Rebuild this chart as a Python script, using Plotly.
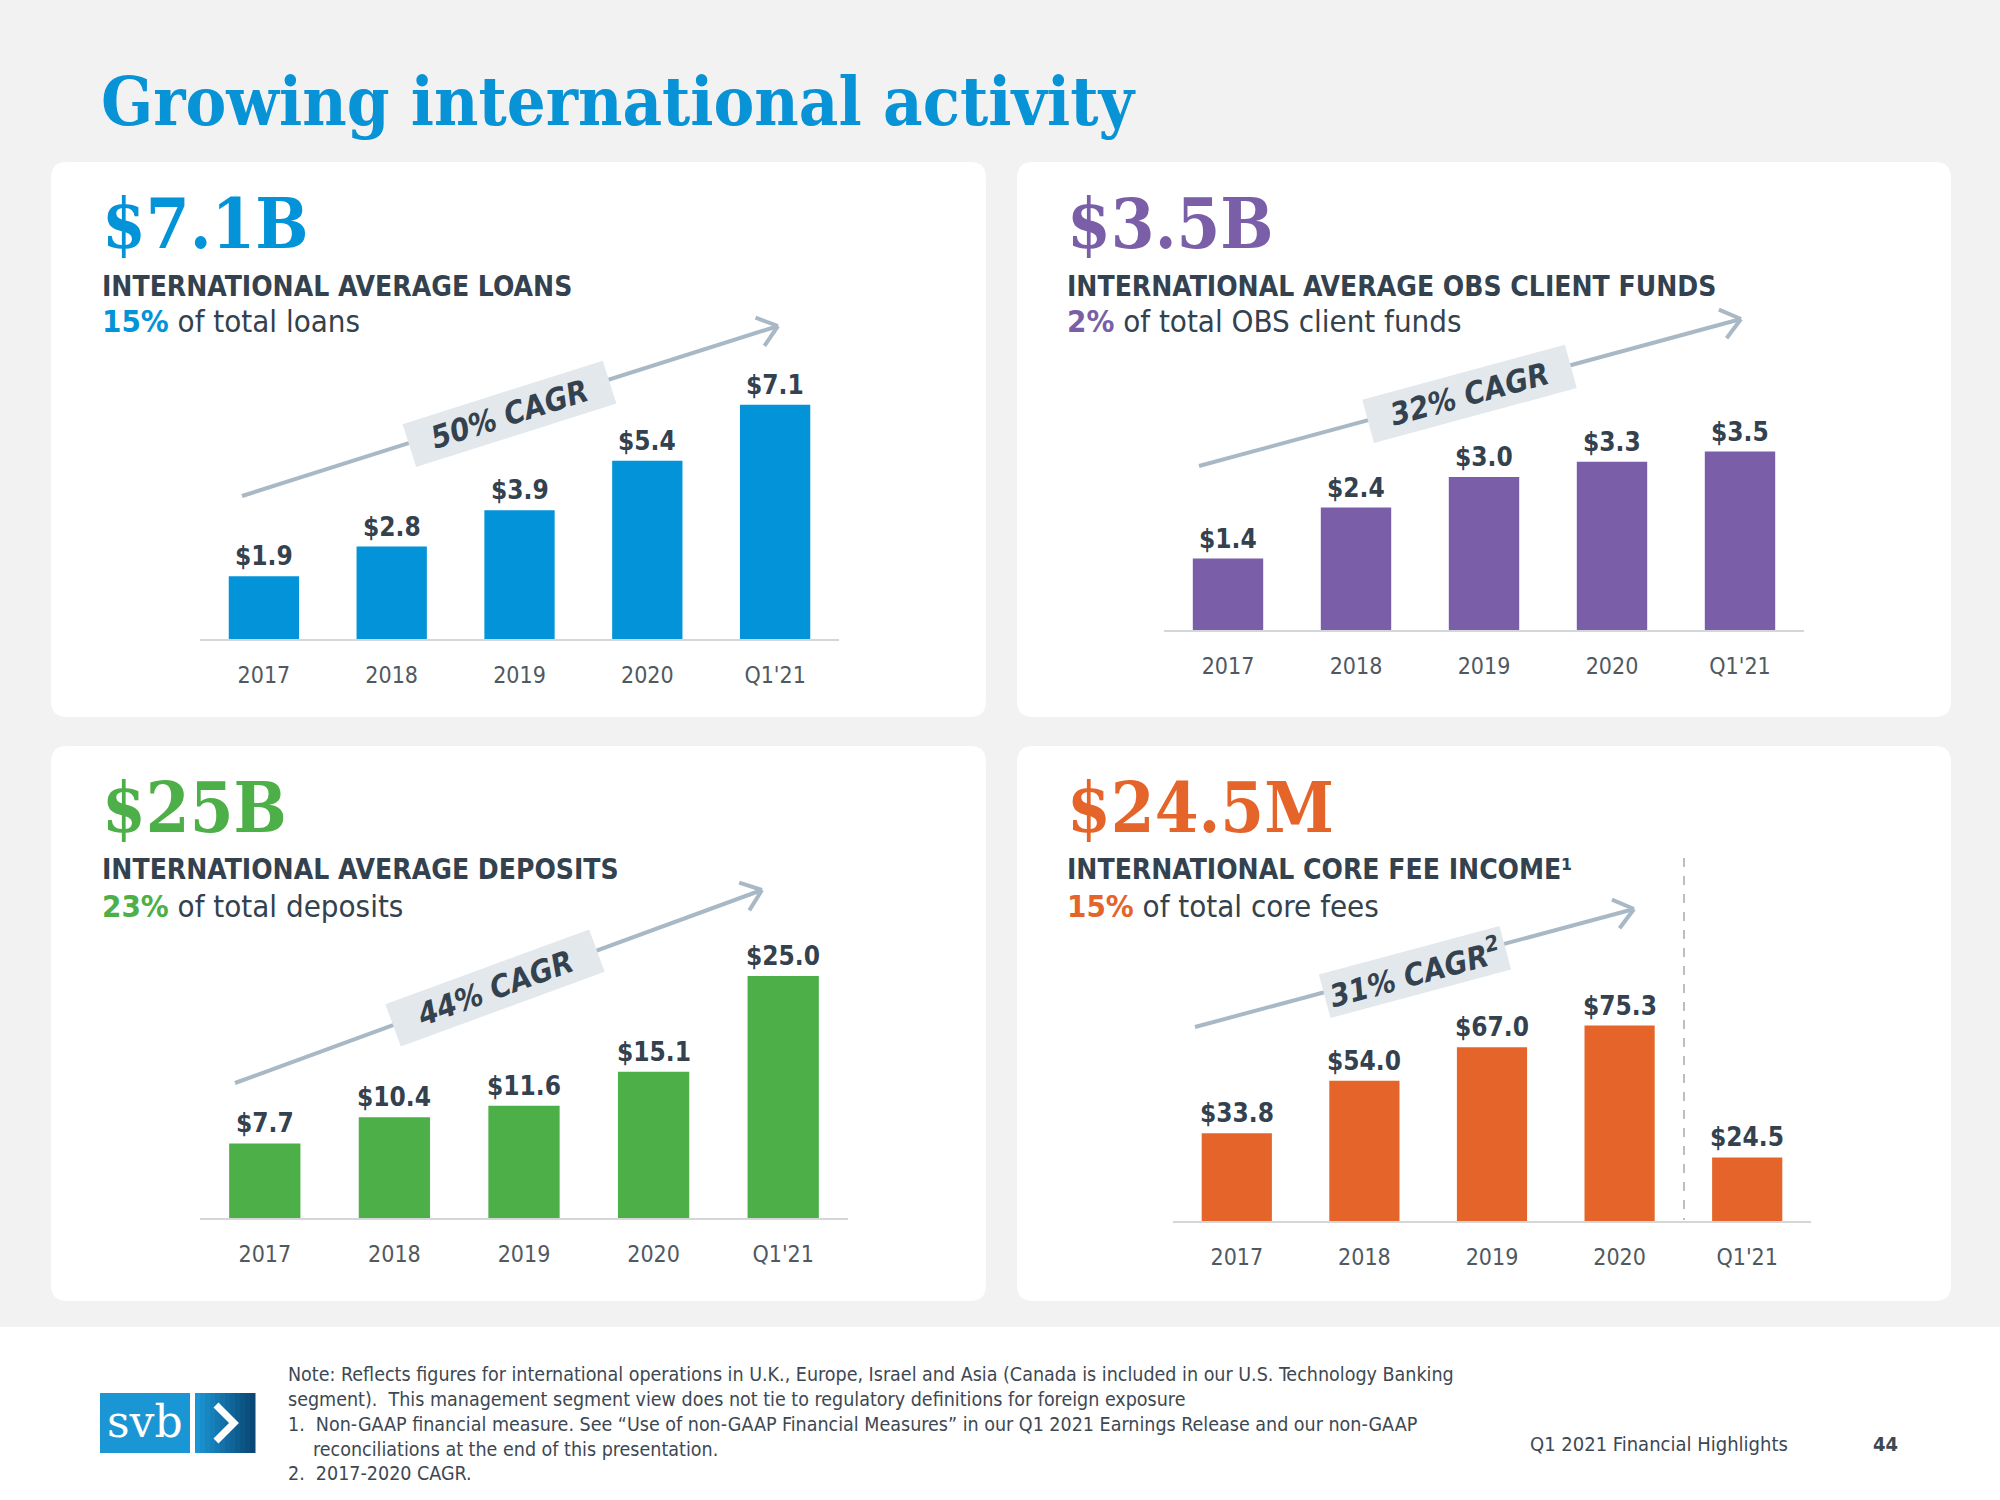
import math
import plotly.graph_objects as go

W, H = 2000, 1500

# ---------------- data ----------------
categories = ["2017", "2018", "2019", "2020", "Q1'21"]
loans = [1.9, 2.8, 3.9, 5.4, 7.1]
obs_funds = [1.4, 2.4, 3.0, 3.3, 3.5]
deposits = [7.7, 10.4, 11.6, 15.1, 25.0]
fee_income = [33.8, 54.0, 67.0, 75.3, 24.5]

headline_values = ["$7.1B", "$3.5B", "$25B", "$24.5M"]
headline_titles = ["INTERNATIONAL AVERAGE LOANS",
                   "INTERNATIONAL AVERAGE OBS CLIENT FUNDS",
                   "INTERNATIONAL AVERAGE DEPOSITS",
                   "INTERNATIONAL CORE FEE INCOME¹"]
share_pcts = ["15%", "2%", "23%", "15%"]
share_texts = ["of total loans", "of total OBS client funds",
               "of total deposits", "of total core fees"]
cagr_texts = ["50% CAGR", "32% CAGR", "44% CAGR", "31% CAGR<sup>2</sup>"]

# ---------------- styles ----------------
SANS = "'Liberation Sans Narrow', 'DejaVu Sans Condensed', 'Noto Sans', sans-serif"
SERIF = "'DejaVu Serif Condensed', 'DejaVu Serif', serif"
DARK = "#33424e"
TICK = "#4f5962"
BG = "#f2f2f2"
ARROW = "#a9b8c5"
BOXC = "#e3e8ec"
colors = ["#0393d8", "#7a5fa8", "#4daf47", "#e4642a"]


def px(x):
    return x / W


def py(y):
    return 1 - y / H


# panel geometry (pixels): card rect, axis line span, baseline, px per unit, ymax
panels = [
    dict(card=(51, 162, 986, 717), xl=(200, 839), base=639, scale=33.0, ymax=8,
         text_x=100, ys=(223, 286, 321), arrow=((242, 496), (778, 326)),
         box=(509, 414), boxw=205, vals=loans),
    dict(card=(1017, 162, 1951, 717), xl=(1164, 1804), base=630, scale=51.0, ymax=4,
         text_x=1065, ys=(223, 286, 321), arrow=((1199, 466), (1741, 319)),
         box=(1469, 394), boxw=205, vals=obs_funds),
    dict(card=(51, 746, 986, 1301), xl=(200, 848), base=1218, scale=9.68, ymax=28,
         text_x=100, ys=(807, 869, 906), arrow=((235, 1083), (762, 890)),
         box=(495, 988), boxw=212, vals=deposits),
    dict(card=(1017, 746, 1951, 1301), xl=(1173, 1811), base=1221, scale=2.595, ymax=85,
         text_x=1065, ys=(807, 869, 906), arrow=((1195, 1027), (1634, 909)),
         box=(1415, 972), boxw=182, vals=fee_income),
]

fig = go.Figure()
shapes = []
annotations = []
layout_axes = {}


def rounded_rect(x0, y0, x1, y1, r, color):
    rx, ry = r / W, r / H
    X0, X1 = px(x0), px(x1)
    Y0, Y1 = py(y1), py(y0)  # bottom, top
    path = (f"M {X0+rx},{Y0} L {X1-rx},{Y0} Q {X1},{Y0} {X1},{Y0+ry} "
            f"L {X1},{Y1-ry} Q {X1},{Y1} {X1-rx},{Y1} L {X0+rx},{Y1} "
            f"Q {X0},{Y1} {X0},{Y1-ry} L {X0},{Y0+ry} Q {X0},{Y0} {X0+rx},{Y0} Z")
    return dict(type="path", path=path, xref="paper", yref="paper",
                fillcolor=color, line=dict(width=0), layer="below")


# footer white band
shapes.append(dict(type="rect", xref="paper", yref="paper", x0=0, x1=1,
                   y0=0, y1=py(1327), fillcolor="white", line=dict(width=0),
                   layer="below"))

for i, p in enumerate(panels):
    n = "" if i == 0 else str(i + 1)
    xa, ya = "x" + n, "y" + n
    # card
    shapes.append(rounded_rect(*p["card"], 16, "white"))
    # axes
    top = p["base"] - p["ymax"] * p["scale"]
    layout_axes["xaxis" + n] = dict(
        domain=[px(p["xl"][0]), px(p["xl"][1])], anchor=ya, type="category",
        range=[-0.5, 4.5], showline=True, linecolor="#d3d7da", linewidth=2,
        showgrid=False, zeroline=False, ticks="", ticklabelstandoff=14,
        tickfont=dict(family=SANS, size=23, color=TICK), fixedrange=True)
    layout_axes["yaxis" + n] = dict(
        domain=[py(p["base"]), py(top)], anchor=xa, range=[0, p["ymax"]],
        visible=False, fixedrange=True)
    fig.add_trace(go.Bar(x=categories, y=p["vals"], marker_color=colors[i],
                         marker_line_width=0, width=0.55, xaxis=xa, yaxis=ya,
                         hoverinfo="skip"))
    for j, v in enumerate(p["vals"]):
        annotations.append(dict(x=j, y=v, xref=xa, yref=ya, text=f"<b>${v:.1f}</b>",
                                showarrow=False, yanchor="bottom", yshift=3,
                                font=dict(family=SANS, size=26, color=DARK)))
    # headline texts
    tx = px(p["text_x"])
    annotations.append(dict(x=tx, y=py(p["ys"][0]), xref="paper", yref="paper",
                            text=f"<b>{headline_values[i]}</b>", showarrow=False,
                            xanchor="left", yanchor="middle",
                            font=dict(family=SERIF, size=70, color=colors[i])))
    annotations.append(dict(x=tx, y=py(p["ys"][1]), xref="paper", yref="paper",
                            text=f"<b>{headline_titles[i]}</b>", showarrow=False,
                            xanchor="left", yanchor="middle",
                            font=dict(family=SANS, size=28, color=DARK)))
    annotations.append(dict(x=tx, y=py(p["ys"][2]), xref="paper", yref="paper",
                            text=f"<b><span style='color:{colors[i]}'>{share_pcts[i]}</span></b> {share_texts[i]}",
                            showarrow=False, xanchor="left", yanchor="middle",
                            font=dict(family=SANS, size=31, color=DARK)))
    # trend arrow
    (x0, y0), (x1, y1) = p["arrow"]
    shapes.append(dict(type="line", xref="paper", yref="paper", x0=px(x0), y0=py(y0),
                       x1=px(x1), y1=py(y1), line=dict(color=ARROW, width=4)))
    ang = math.atan2(y1 - y0, x1 - x0)
    for da in (math.radians(38), -math.radians(38)):
        back = ang + math.pi + da
        ex, ey = x1 + 24 * math.cos(back), y1 + 24 * math.sin(back)
        shapes.append(dict(type="line", xref="paper", yref="paper", x0=px(ex), y0=py(ey),
                           x1=px(x1), y1=py(y1), line=dict(color=ARROW, width=4)))
    deg = math.degrees(math.atan2(y0 - y1, x1 - x0))
    annotations.append(dict(x=px(p["box"][0]), y=py(p["box"][1]), xref="paper",
                            yref="paper", text=f"<b><i>{cagr_texts[i]}</i></b>",
                            showarrow=False, xanchor="center", yanchor="middle",
                            textangle=-deg, bgcolor=BOXC, width=p["boxw"], height=40,
                            borderpad=2, font=dict(family=SANS, size=31, color=DARK)))

# dashed separator in fee income panel
shapes.append(dict(type="line", xref="paper", yref="paper", x0=px(1684), x1=px(1684),
                   y0=py(858), y1=py(1220), line=dict(color="#a4abb2", width=1.5, dash="dash")))

# title
annotations.append(dict(x=px(99), y=py(101), xref="paper", yref="paper",
                        text="<b>Growing international activity</b>", showarrow=False,
                        xanchor="left", yanchor="middle",
                        font=dict(family=SERIF, size=68, color="#0793d6")))

# footer notes
notes = [
    (286, 1374, "Note: Reflects figures for international operations in U.K., Europe, Israel and Asia (Canada is included in our U.S. Technology Banking"),
    (286, 1399, "segment).  This management segment view does not tie to regulatory definitions for foreign exposure"),
    (286, 1424, "1.  Non-GAAP financial measure. See “Use of non-GAAP Financial Measures” in our Q1 2021 Earnings Release and our non-GAAP"),
    (311, 1449, "reconciliations at the end of this presentation."),
    (286, 1473, "2.  2017-2020 CAGR."),
]
for x, y, t in notes:
    annotations.append(dict(x=px(x), y=py(y), xref="paper", yref="paper", text=t,
                            showarrow=False, xanchor="left", yanchor="middle",
                            font=dict(family=SANS, size=19.5, color="#3d4852")))
annotations.append(dict(x=px(1528), y=py(1444), xref="paper", yref="paper",
                        text="Q1 2021 Financial Highlights", showarrow=False,
                        xanchor="left", yanchor="middle",
                        font=dict(family=SANS, size=20, color="#3d4852")))
annotations.append(dict(x=px(1900), y=py(1444), xref="paper", yref="paper",
                        text="<b>44</b>", showarrow=False, xanchor="right", yanchor="middle",
                        font=dict(family=SANS, size=20, color="#3d4852")))

# svb logo
shapes.append(dict(type="rect", xref="paper", yref="paper", x0=px(100), x1=px(190),
                   y0=py(1453), y1=py(1393), fillcolor="#1b96d4", line=dict(width=0)))
nsl = 12
c0, c1 = (27, 150, 212), (9, 72, 118)
for k in range(nsl):
    t = k / (nsl - 1)
    col = "rgb(%d,%d,%d)" % tuple(int(a + (b - a) * t) for a, b in zip(c0, c1))
    xa0 = 195 + 60 * k / nsl
    xa1 = 195 + 60 * (k + 1) / nsl
    shapes.append(dict(type="rect", xref="paper", yref="paper", x0=px(xa0), x1=px(xa1 + 0.5),
                       y0=py(1453), y1=py(1393), fillcolor=col, line=dict(width=0)))
shapes.append(dict(type="path", xref="paper", yref="paper",
                   path=f"M {px(216)},{py(1405)} L {px(234)},{py(1423)} L {px(216)},{py(1441)}",
                   line=dict(color="white", width=7)))
annotations.append(dict(x=px(145), y=py(1421), xref="paper", yref="paper",
                        text="svb", showarrow=False, xanchor="center", yanchor="middle",
                        font=dict(family="'DejaVu Serif', serif", size=44, color="white")))

fig.update_layout(
    width=W, height=H, margin=dict(l=0, r=0, t=0, b=0, pad=0),
    paper_bgcolor=BG, plot_bgcolor="rgba(0,0,0,0)", showlegend=False,
    bargap=0.45, shapes=shapes, annotations=annotations, **layout_axes)

fig.write_html("out.html", config={"displayModeBar": False, "staticPlot": True},
               post_script="document.body.style.margin='0';document.body.style.overflow='hidden';")
